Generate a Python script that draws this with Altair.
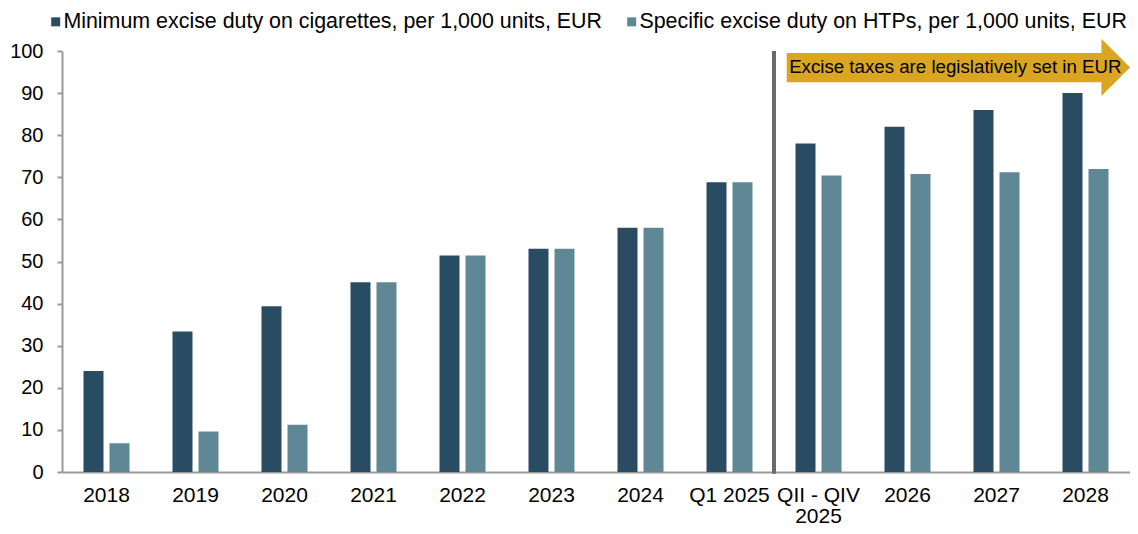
import altair as alt
import pandas as pd

categories = ["2018", "2019", "2020", "2021", "2022", "2023", "2024",
              "Q1 2025", "QII - QIV 2025", "2026", "2027", "2028"]
series = ["Minimum excise duty on cigarettes, per 1,000 units, EUR",
          "Specific excise duty on HTPs, per 1,000 units, EUR"]
cigarettes = [24.0, 33.4, 39.4, 45.1, 51.4, 53.0, 58.0, 68.8, 78.0, 82.0, 86.0, 90.0]
htps = [6.8, 9.6, 11.2, 45.1, 51.4, 53.0, 58.0, 68.8, 70.4, 70.8, 71.2, 72.0]
colors = ["#294c63", "#5f8795"]

divider_category = ["QII - QIV 2025"]
arrow_label = "Excise taxes are legislatively set in EUR"

# annotation arrow (x in category-index units, y in chart units)
arrow_body_x = [8.143]
arrow_body_x2 = [11.70]
arrow_body_top = [99.5]
arrow_body_bottom = [92.6]
arrow_head_x = [11.84]
arrow_mid_y = [96.1]
arrow_text_x = [8.17]

rows = []
for c, a, b in zip(categories, cigarettes, htps):
    rows.append({"cat": c, "series": series[0], "value": a})
    rows.append({"cat": c, "series": series[1], "value": b})
df = pd.DataFrame(rows)

yscale = alt.Scale(domain=[0, 100], nice=False, zero=True)
xscale = alt.Scale(domain=categories, paddingInner=0, paddingOuter=0)
ascale = alt.Scale(domain=[0, 12], nice=False, zero=False)

bars = alt.Chart(df).mark_bar().encode(
    x=alt.X("cat:N", sort=categories, scale=xscale, title=None,
            axis=alt.Axis(labelAngle=0, ticks=False, labelPadding=12,
                          labelFontSize=21, labelColor="#000000",
                          labelLineHeight=21, domainColor="#9a9a9a", domainWidth=2,
                          labelExpr="datum.value == 'QII - QIV 2025' ? ['QII - QIV', '2025'] : datum.value")),
    xOffset=alt.XOffset("series:N", sort=series,
                        scale=alt.Scale(domain=series, paddingInner=0.2308, paddingOuter=0.827)),
    y=alt.Y("value:Q", scale=yscale, title=None,
            axis=alt.Axis(values=list(range(0, 101, 10)), grid=False, tickSize=5,
                          tickColor="#9a9a9a", tickWidth=2, domainColor="#9a9a9a",
                          domainWidth=2, labelPadding=14, labelFontSize=20,
                          labelColor="#000000")),
    color=alt.Color("series:N", sort=series,
                    scale=alt.Scale(domain=series, range=colors),
                    legend=alt.Legend(title=None, orient="none", legendX=-17, legendY=-40.3,
                                      direction="horizontal", symbolType="square",
                                      symbolSize=81, symbolStrokeWidth=0,
                                      labelFontSize=21.4, labelColor="#000000",
                                      labelLimit=800, labelOffset={"expr": "-3"},
                                      columnPadding=19, padding=0)),
)

div_df = pd.DataFrame({"cat": divider_category, "top": [100.0], "bottom": [-0.4]})
divider = alt.Chart(div_df).mark_rule(color="#6b6b6b", strokeWidth=4).encode(
    x=alt.X("cat:N", sort=categories, scale=xscale, bandPosition=0, title=None),
    y=alt.Y("top:Q", scale=yscale, title=None),
    y2="bottom:Q",
)

inner = alt.layer(bars, divider)

body_df = pd.DataFrame({"x": arrow_body_x, "x2": arrow_body_x2,
                        "top": arrow_body_top, "bottom": arrow_body_bottom})
body = alt.Chart(body_df).mark_rect(color="#daa520", clip=False).encode(
    x=alt.X("x:Q", scale=ascale, axis=None),
    x2="x2:Q",
    y=alt.Y("top:Q", scale=yscale, title=None),
    y2="bottom:Q",
)

head_df = pd.DataFrame({"x": arrow_head_x, "y": arrow_mid_y})
head = alt.Chart(head_df).mark_point(
    shape="M-0.5,-1L0.5,0L-0.5,1Z", filled=True, size=3272,
    color="#daa520", opacity=1, strokeWidth=0, clip=False,
).encode(
    x=alt.X("x:Q", scale=ascale, axis=None),
    y=alt.Y("y:Q", scale=yscale, title=None),
)

text_df = pd.DataFrame({"x": arrow_text_x, "y": arrow_mid_y, "t": [arrow_label]})
arrow_text = alt.Chart(text_df).mark_text(align="left", baseline="middle", fontSize=18.7,
                                           color="#000000").encode(
    x=alt.X("x:Q", scale=ascale, axis=None),
    y=alt.Y("y:Q", scale=yscale, title=None),
    text="t:N",
)

chart = alt.layer(inner, body, head, arrow_text).resolve_scale(x="independent").properties(
    width=1068, height=421,
    autosize=alt.AutoSizeParams(type="none"),
    padding={"left": 54, "top": 43, "right": 0, "bottom": 54},
).configure(font="Liberation Sans").configure_view(stroke=None)

chart.save("out.html", embed_options={"renderer": "svg", "actions": False})
